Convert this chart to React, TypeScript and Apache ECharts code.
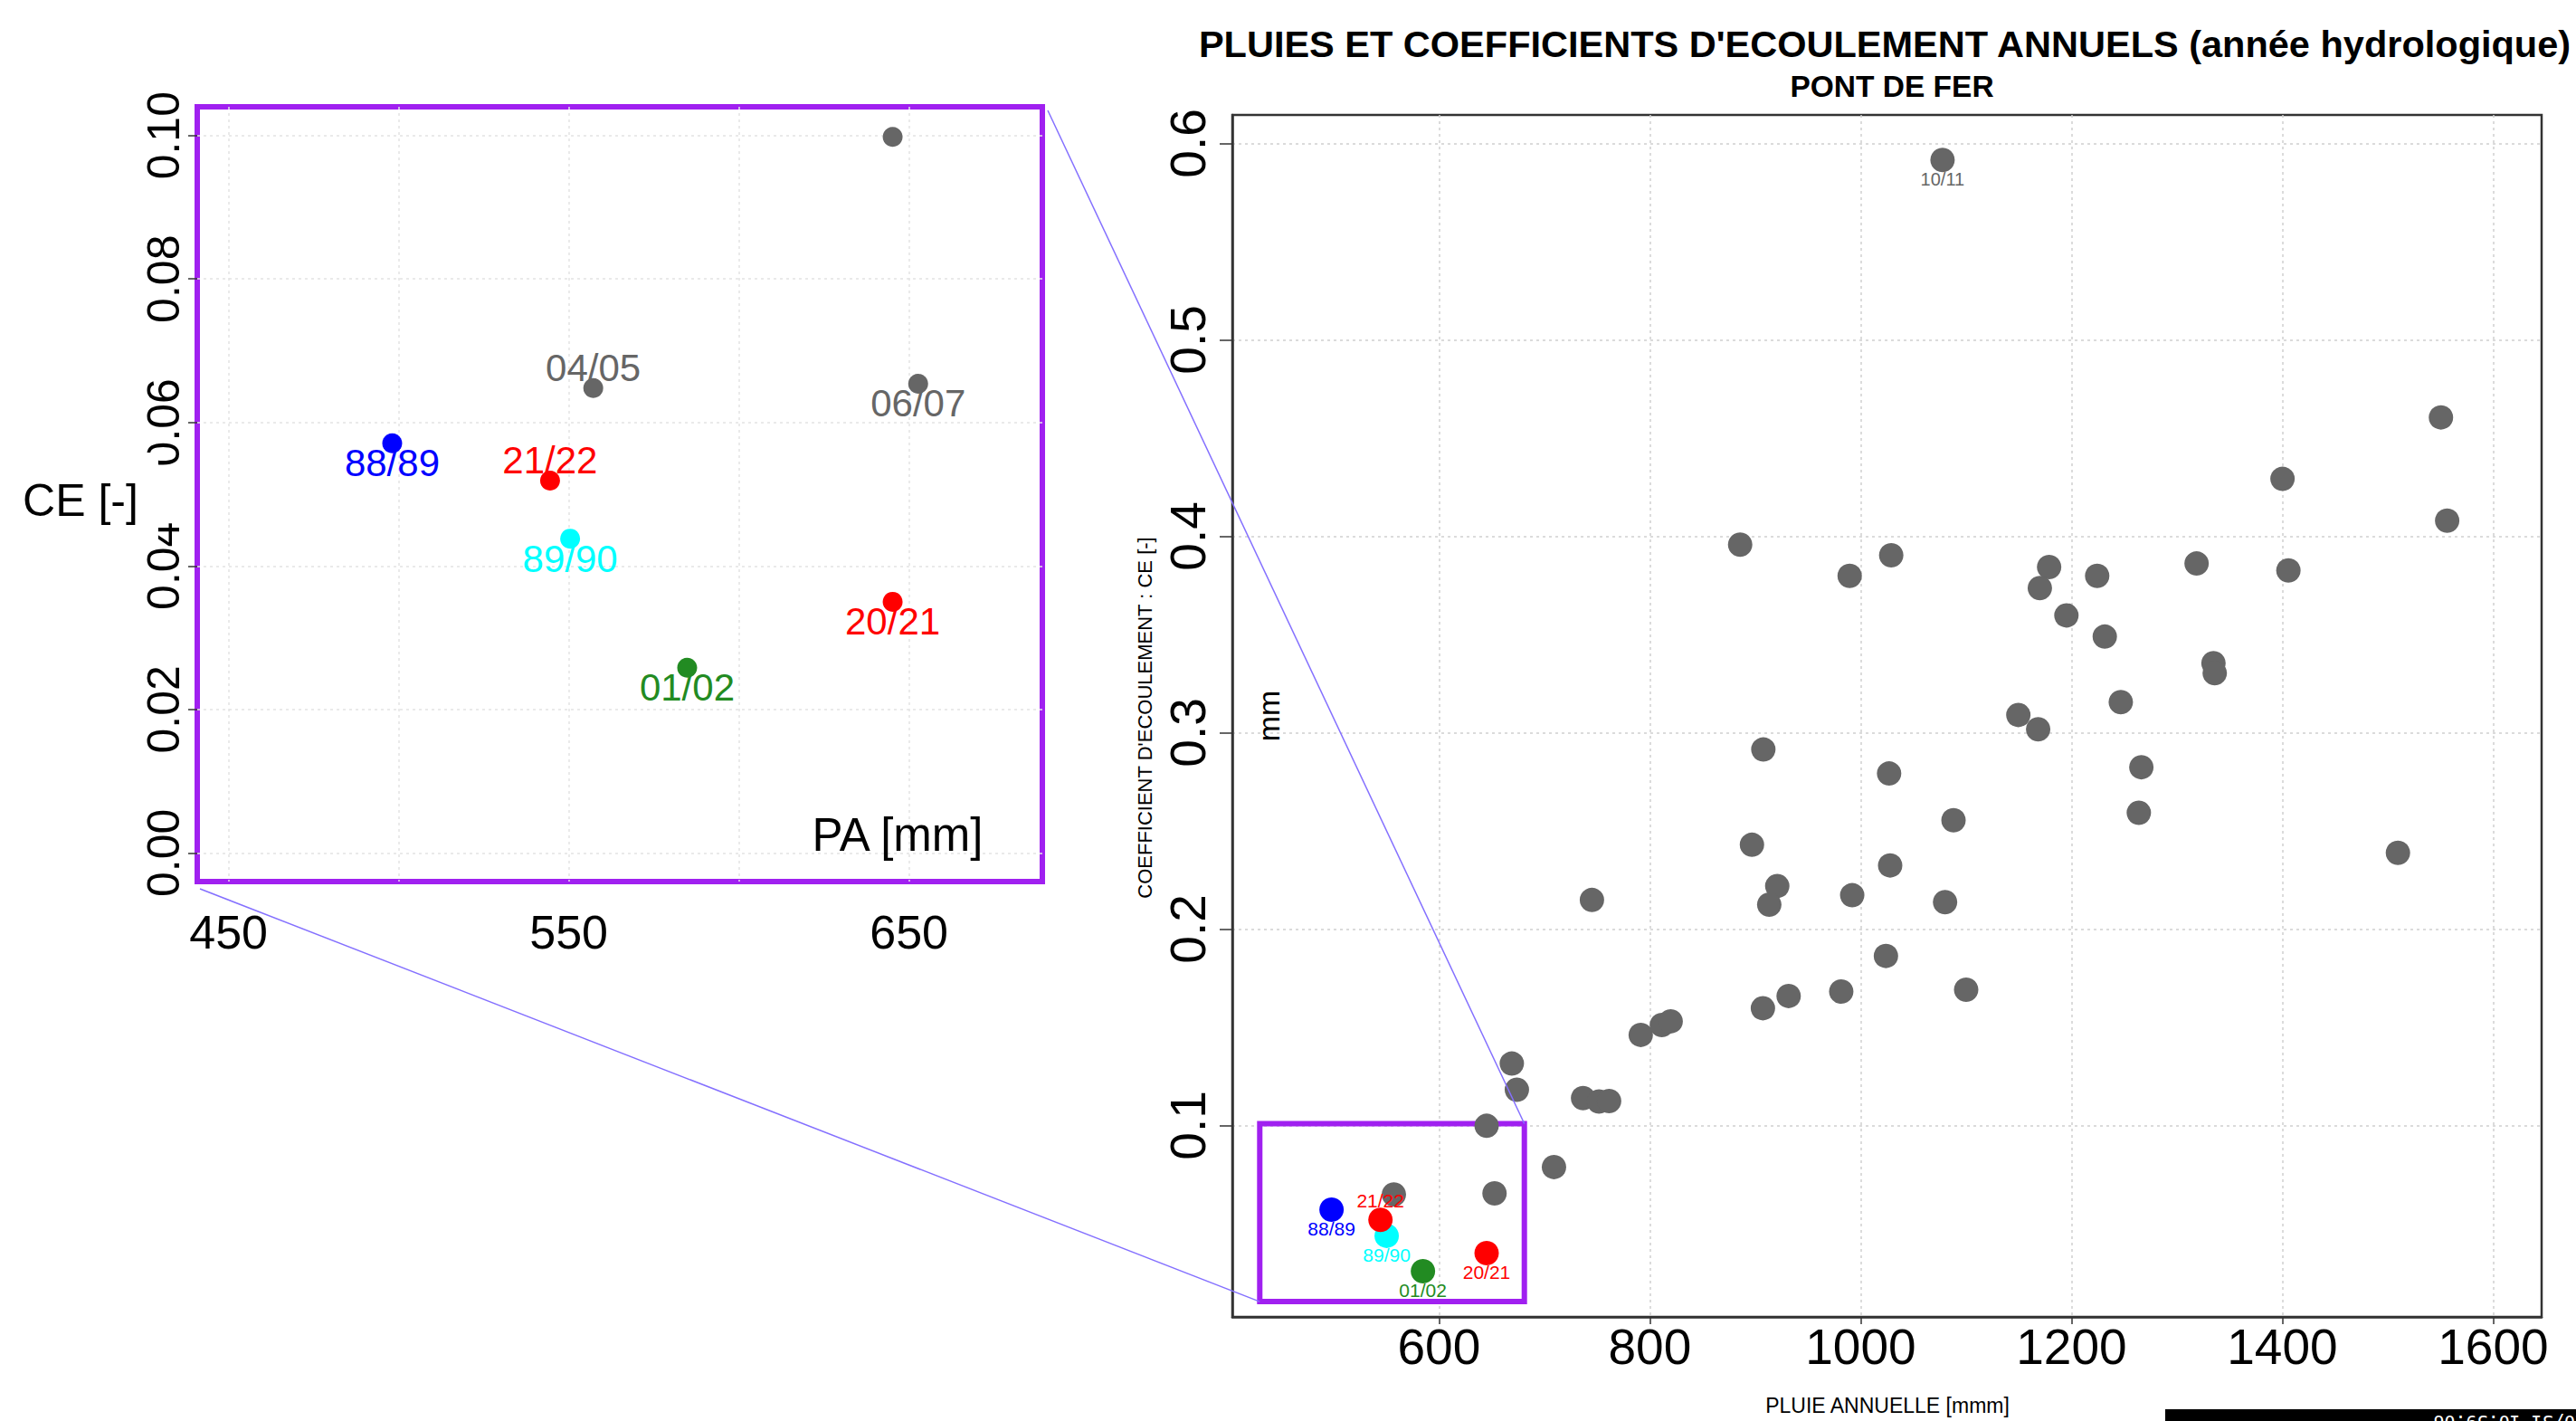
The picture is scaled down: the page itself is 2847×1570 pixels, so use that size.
import React, { useEffect, useRef } from 'react';
import * as echarts from 'echarts';

// ---- data ----
const otherPA = [1550.5, 1400.2, 1556.4, 1405.8, 1318.7, 1334.7, 1335.9, 885.7, 989.6, 1029, 1178.8, 1170.0, 1224.4, 1195.2, 1231.6, 1246.8, 1149.6, 1168.4, 1266.3, 1263.9, 907.7, 1027, 1088.1, 896.9, 1028, 920.9, 913.3, 992.0, 1080.1, 745.1, 1024, 1100.1, 981.6, 931.7, 907.3, 791.4, 811.4, 819.8, 669.1, 673.9, 736.7, 751.8, 761.4, 645.2, 709.1, 1509.7];
const otherCE = [0.4605, 0.4292, 0.4079, 0.3826, 0.3861, 0.3354, 0.3303, 0.3957, 0.3798, 0.3903, 0.3843, 0.3736, 0.3798, 0.3597, 0.3489, 0.3155, 0.3090, 0.3017, 0.2824, 0.2592, 0.2914, 0.2792, 0.2554, 0.2429, 0.2324, 0.2219, 0.2124, 0.2172, 0.2137, 0.2148, 0.1863, 0.1691, 0.1682, 0.1659, 0.1597, 0.1461, 0.1511, 0.1530, 0.1315, 0.1182, 0.1139, 0.1122, 0.1124, 0.0998, 0.0788, 0.2388];

const namedYears = ['10/11', '04/05', '06/07', '88/89', '89/90', '01/02', '20/21', '21/22'];
const namedPA = [1077.7, 557.2, 652.7, 498.1, 550.4, 584.8, 645.2, 544.5];
const namedCE = [0.5916, 0.0648, 0.0654, 0.0571, 0.0438, 0.0258, 0.0350, 0.0519];
const namedColors = ['#666666', '#666666', '#666666', '#0000FF', '#00FFFF', '#228B22', '#FF0000', '#FF0000'];
const labelAbove = ['04/05', '21/22'];
const mainLabelled = ['10/11', '88/89', '89/90', '01/02', '20/21', '21/22'];
const insetLabelled = ['04/05', '06/07', '88/89', '89/90', '01/02', '20/21', '21/22'];

// zoom window drawn on the main plot
const zoomPA = [430, 681];
const zoomCE = [0.0103, 0.1009];

// axes
const mainXRange = [404, 1646];
const mainYRange = [0.0025, 0.6145];
const insetXRange = [440.8, 689.2];
const insetYRange = [-0.004, 0.104];
const mainXTicks = [600, 800, 1000, 1200, 1400, 1600];
const mainYTicks = [0.1, 0.2, 0.3, 0.4, 0.5, 0.6];
const insetXGrid = [450, 500, 550, 600, 650];
const insetXLabels = [450, 550, 650];
const insetYTicks = [0, 0.02, 0.04, 0.06, 0.08, 0.1];

const FONT = 'Liberation Sans, Arial, Helvetica, sans-serif';

function near(v: number, arr: number[]) {
  return arr.some((a) => Math.abs(a - v) < 1e-6);
}

export default function App() {
  const ref = useRef<HTMLDivElement>(null);
  useEffect(() => {
    const chart = echarts.init(ref.current!, null, { renderer: 'svg' });

    const grayIdx = namedColors.map((c, i) => i).filter((i) => namedColors[i] === '#666666');
    const colIdx = namedColors.map((c, i) => i).filter((i) => namedColors[i] !== '#666666');

    const mkItem = (i: number, labelled: string[], fs: number, off: number) => {
      const yr = namedYears[i];
      const show = labelled.includes(yr);
      return {
        value: [namedPA[i], namedCE[i]],
        name: yr,
        itemStyle: { color: namedColors[i], opacity: 1 },
        label: {
          show,
          position: 'inside',
          offset: [0, labelAbove.includes(yr) ? -off : off],
          formatter: yr,
          color: namedColors[i],
          fontSize: fs,
          fontFamily: FONT,
        },
      };
    };

    const otherData = otherPA.map((x, i) => [x, otherCE[i]]);
    const rectData = [
      [zoomPA[0], zoomCE[0]],
      [zoomPA[1], zoomCE[0]],
      [zoomPA[1], zoomCE[1]],
      [zoomPA[0], zoomCE[1]],
      [zoomPA[0], zoomCE[0]],
    ];

    const gridLine = { show: true, lineStyle: { color: '#cfcfcf', type: [3, 4], width: 1.5 } };

    const option: any = {
      animation: false,
      backgroundColor: '#ffffff',
      grid: [
        { left: 1362, top: 127, width: 1447, height: 1328, show: true, borderColor: '#333', borderWidth: 2.5, backgroundColor: 'transparent' },
        { left: 218, top: 118, width: 934, height: 856, show: true, borderColor: '#A020F0', borderWidth: 6, backgroundColor: 'transparent' },
      ],
      xAxis: [
        {
          type: 'value', gridIndex: 0, min: mainXRange[0], max: mainXRange[1],
          axisLine: { show: true, lineStyle: { color: '#333', width: 2.5 } },
          axisTick: { show: true, length: 8, lineStyle: { color: '#333', width: 1.5 }, customValues: mainXTicks },
          axisLabel: {
            customValues: mainXTicks, fontSize: 55, color: '#000', margin: 5, fontFamily: FONT,
            formatter: (v: number) => (near(v, mainXTicks) ? String(Math.round(v)) : ''),
          },
          splitLine: gridLine,
        },
        {
          type: 'value', gridIndex: 1, min: insetXRange[0], max: insetXRange[1],
          axisLine: { show: false },
          axisTick: { show: false, customValues: insetXGrid },
          axisLabel: {
            customValues: insetXLabels, fontSize: 52, color: '#000', margin: 30, fontFamily: FONT,
            formatter: (v: number) => (near(v, insetXLabels) ? String(Math.round(v)) : ''),
          },
          splitLine: { show: true, lineStyle: { color: '#e3e3e3', type: [3, 4], width: 1.5 } },
        },
      ],
      yAxis: [
        {
          type: 'value', gridIndex: 0, min: mainYRange[0], max: mainYRange[1],
          axisLine: { show: true, lineStyle: { color: '#333', width: 2.5 } },
          axisTick: { show: true, length: 14, lineStyle: { color: '#333', width: 1.5 }, customValues: mainYTicks },
          axisLabel: {
            customValues: mainYTicks, fontSize: 55, color: '#000', margin: 22, rotate: 90, fontFamily: FONT,
            formatter: (v: number) => (near(v, mainYTicks) ? v.toFixed(1) : ''),
          },
          splitLine: gridLine,
        },
        {
          type: 'value', gridIndex: 1, min: insetYRange[0], max: insetYRange[1],
          axisLine: { show: false },
          axisTick: { show: true, length: 10, lineStyle: { color: '#333', width: 1.5 }, customValues: insetYTicks },
          axisLabel: {
            customValues: insetYTicks, fontSize: 50, color: '#000', margin: 12, rotate: 90, fontFamily: FONT,
            formatter: (v: number) => (near(v, insetYTicks) ? v.toFixed(2) : ''),
          },
          splitLine: { show: true, lineStyle: { color: '#e3e3e3', type: [3, 4], width: 1.5 } },
        },
      ],
      series: [
        {
          type: 'line', xAxisIndex: 0, yAxisIndex: 0, data: rectData, symbol: 'none', silent: true, z: 1,
          lineStyle: { color: '#A020F0', width: 6, join: 'miter', cap: 'square', opacity: 1 },
        },
        {
          type: 'scatter', xAxisIndex: 0, yAxisIndex: 0, symbolSize: 27, z: 2,
          itemStyle: { color: '#666666', opacity: 1 },
          data: [...otherData, ...grayIdx.map((i) => mkItem(i, mainLabelled, 20, 21))],
        },
        {
          type: 'scatter', xAxisIndex: 0, yAxisIndex: 0, symbolSize: 27, z: 3,
          itemStyle: { opacity: 1 },
          data: colIdx.map((i) => mkItem(i, mainLabelled, 21, 21)),
        },
        {
          type: 'scatter', xAxisIndex: 1, yAxisIndex: 1, symbolSize: 22, z: 2,
          itemStyle: { color: '#666666', opacity: 1 },
          data: [...otherData, ...grayIdx.map((i) => mkItem(i, insetLabelled, 42, 22))],
        },
        {
          type: 'scatter', xAxisIndex: 1, yAxisIndex: 1, symbolSize: 22, z: 3,
          itemStyle: { opacity: 1 },
          data: colIdx.map((i) => mkItem(i, insetLabelled, 42, 22)),
        },
      ],
    };
    chart.setOption(option);

    const p1 = chart.convertToPixel({ gridIndex: 1 } as any, [insetXRange[1], insetYRange[1]]) as number[];
    const p2 = chart.convertToPixel({ gridIndex: 0 } as any, [zoomPA[1], zoomCE[1]]) as number[];
    const p3 = chart.convertToPixel({ gridIndex: 1 } as any, [insetXRange[0], insetYRange[0]]) as number[];
    const p4 = chart.convertToPixel({ gridIndex: 0 } as any, [zoomPA[0], zoomCE[0]]) as number[];

    const txt = (text: string, x: number, y: number, fontSize: number, extra: any = {}, rot = 0, z = 50) => ({
      type: 'text', x, y, rotation: rot, z, silent: true,
      style: {
        text, fill: extra.fill || '#000', fontSize, fontFamily: extra.fontFamily || FONT,
        fontWeight: extra.fontWeight || 'normal',
        align: extra.align || 'center', textAlign: extra.align || 'center',
        verticalAlign: extra.verticalAlign || 'middle', textVerticalAlign: extra.verticalAlign || 'middle',
        backgroundColor: extra.backgroundColor, padding: extra.padding,
      },
    });

    chart.setOption({
      graphic: [
        txt('PLUIES ET COEFFICIENTS D\'ECOULEMENT ANNUELS (année hydrologique)', 2083, 48, 41.5, { fontWeight: 'bold' }),
        txt('PONT DE FER', 2091, 95, 33.5, { fontWeight: 'bold' }),
        txt('PLUIE ANNUELLE [mmm]', 2086, 1553, 23),
        txt('COEFFICIENT D\'ECOULEMENT : CE [-]', 1265, 793, 22, {}, Math.PI / 2),
        txt('mm', 1402, 791, 34, {}, Math.PI / 2),
        txt('CE [-]', 89, 553, 50, { backgroundColor: '#ffffff', padding: [40, 22, 16, 22] }, 0, 100),
        txt('PA [mm]', 992, 922, 51),
        {
          type: 'line', z: 120, silent: true,
          shape: { x1: p1[0] + 6, y1: p1[1] + 4, x2: p2[0], y2: p2[1] },
          style: { stroke: '#8470FF', lineWidth: 1.5 },
        },
        {
          type: 'line', z: 120, silent: true,
          shape: { x1: p3[0] + 3, y1: p3[1] + 8, x2: p4[0], y2: p4[1] },
          style: { stroke: '#8470FF', lineWidth: 1.5 },
        },
        { type: 'rect', z: 130, silent: true, shape: { x: 2393, y: 1557, width: 454, height: 13 }, style: { fill: '#000' } },
        txt('10/31 10:59:06', 2858, 1561, 20, { fill: '#fff', fontFamily: 'DejaVu Sans Mono, monospace', align: 'left', verticalAlign: 'bottom' }, Math.PI, 140),
      ],
    });

    return () => chart.dispose();
  }, []);
  return (
    <div
      ref={ref}
      style={{ position: 'fixed', left: 0, top: 0, width: 2847, height: 1570, background: '#ffffff' }}
    />
  );
}
